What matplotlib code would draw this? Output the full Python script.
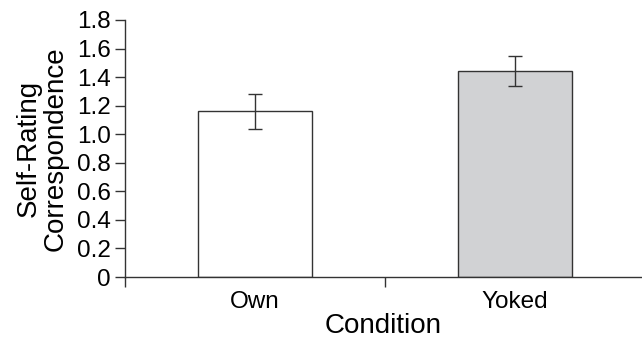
import matplotlib.pyplot as plt
from matplotlib.ticker import FuncFormatter

conditions = ["Own", "Yoked"]
means = [1.16, 1.44]
errors = [0.12, 0.105]
fill_colors = ["white", "#d1d2d4"]

plt.rcParams["font.family"] = ["Liberation Sans", "DejaVu Sans"]

fig = plt.figure(figsize=(6.42, 3.42), dpi=100)
ax = fig.add_axes([125 / 642, 1 - 277 / 342, 517 / 642, 257 / 342])

edge = "#333333"
x = list(range(len(conditions)))
ax.bar(x, means, width=0.44, color=fill_colors, edgecolor=edge, linewidth=1.0,
       yerr=errors, error_kw=dict(ecolor=edge, elinewidth=1.0, capsize=5, capthick=1.0),
       zorder=2)

ax.set_xlim(-0.5, -0.5 + 517 / 260)
ax.set_ylim(0, 1.8)
ax.set_yticks([i * 0.2 for i in range(10)])
ax.yaxis.set_major_formatter(FuncFormatter(lambda v, p: "0" if abs(v) < 1e-9 else f"{v:.1f}"))

ax.set_xticks(x)
ax.set_xticklabels(conditions)
ax.set_xticks([-0.5, 0.5], minor=True)
ax.tick_params(axis="x", which="major", length=0, pad=10, labelsize=17.5)
ax.tick_params(axis="x", which="minor", length=7, width=1.0, color=edge, direction="out")
ax.tick_params(axis="y", length=7, width=1.0, color=edge, direction="out", labelsize=17.5, pad=3)

for s in ["top", "right"]:
    ax.spines[s].set_visible(False)
for s in ["left", "bottom"]:
    ax.spines[s].set_color(edge)
    ax.spines[s].set_linewidth(1.0)

ax.set_xlabel("Condition", fontsize=20, labelpad=0)
ax.set_ylabel("Self-Rating\nCorrespondence", fontsize=20, labelpad=6, linespacing=1.05)

fig.savefig("out.png", dpi=100)
